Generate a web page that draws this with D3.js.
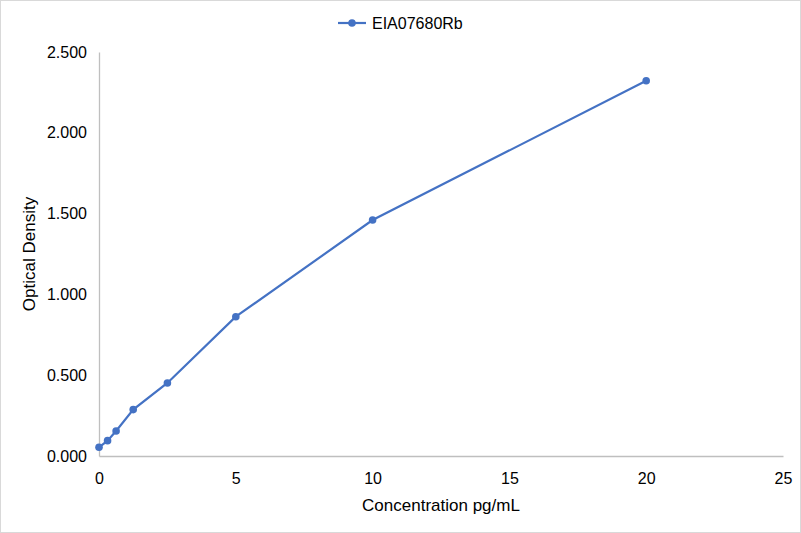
<!DOCTYPE html>
<html>
<head>
<meta charset="utf-8">
<script src="https://cdn.jsdelivr.net/npm/d3@7"></script>
<style>
  body { margin: 0; background: #fff; }
  svg { display: block; font-family: "Liberation Sans", Arial, sans-serif; }
</style>
</head>
<body>
<div id="chart"></div>
<script>
// concentration (pg/mL) and optical density
const seriesName = "EIA07680Rb";
const concentration = [0, 0.3125, 0.625, 1.25, 2.5, 5, 10, 20];
const density = [0.054, 0.095, 0.155, 0.287, 0.452, 0.862, 1.460, 2.322];
const xTicks = [0, 5, 10, 15, 20, 25];
const yTicks = [0, 0.5, 1.0, 1.5, 2.0, 2.5];

const W = 801, H = 533;
const margin = { top: 52, right: 18, bottom: 77, left: 99 };
const width = W - margin.left - margin.right,
    height = H - margin.top - margin.bottom;
const blue = "#4472C4";

const svg = d3.select("#chart").append("svg")
    .attr("width", W)
    .attr("height", H);

// outer border
svg.append("rect")
    .attr("x", 0.5).attr("y", 0.5)
    .attr("width", W - 1).attr("height", H - 1)
    .attr("fill", "#fff")
    .attr("stroke", "#d9d9d9");

const chart = svg.append("g")
    .attr("transform", `translate(${margin.left},${margin.top})`);

const x = d3.scaleLinear().domain([0, 25]).range([0, width]);
const y = d3.scaleLinear().domain([0, 2.5]).range([height, 0]);

// axes
const xAxis = chart.append("g")
    .attr("transform", `translate(0,${height})`)
    .call(d3.axisBottom(x).tickValues(xTicks).tickSize(0).tickPadding(17).tickFormat(d3.format("d")));
xAxis.select(".domain").attr("stroke", "#bfbfbf").attr("stroke-width", 1.3);
xAxis.selectAll("text").style("font-size", "16px").attr("fill", "#000");

const yAxis = chart.append("g")
    .call(d3.axisLeft(y).tickValues(yTicks).tickSize(0).tickPadding(12).tickFormat(d3.format(".3f")));
yAxis.select(".domain").attr("stroke", "#bfbfbf").attr("stroke-width", 1.3);
yAxis.selectAll("text").style("font-size", "16px").attr("fill", "#000");

// data line
const pts = concentration.map((c, i) => ({ c: c, od: density[i] }));

chart.append("path")
    .datum(pts)
    .attr("fill", "none")
    .attr("stroke", blue)
    .attr("stroke-width", 2.2)
    .attr("d", d3.line().x(d => x(d.c)).y(d => y(d.od)));

chart.selectAll(".pt")
    .data(pts)
    .enter()
    .append("circle")
    .attr("class", "pt")
    .attr("cx", d => x(d.c))
    .attr("cy", d => y(d.od))
    .attr("r", 3.8)
    .attr("fill", blue);

// axis titles
svg.append("text")
    .attr("x", margin.left + width / 2)
    .attr("y", 511)
    .attr("text-anchor", "middle")
    .style("font-size", "17px")
    .text("Concentration pg/mL");

svg.append("text")
    .attr("transform", `translate(35,${margin.top + height / 2}) rotate(-90)`)
    .attr("text-anchor", "middle")
    .style("font-size", "17px")
    .text("Optical Density");

// legend
const legend = svg.append("g").attr("transform", "translate(338,23)");
legend.append("line")
    .attr("x1", 0).attr("x2", 28)
    .attr("stroke", blue).attr("stroke-width", 2.2);
legend.append("circle")
    .attr("cx", 14).attr("r", 3.8).attr("fill", blue);
legend.append("text")
    .attr("x", 34).attr("dy", "0.35em")
    .style("font-size", "16px")
    .text(seriesName);
</script>
</body>
</html>
